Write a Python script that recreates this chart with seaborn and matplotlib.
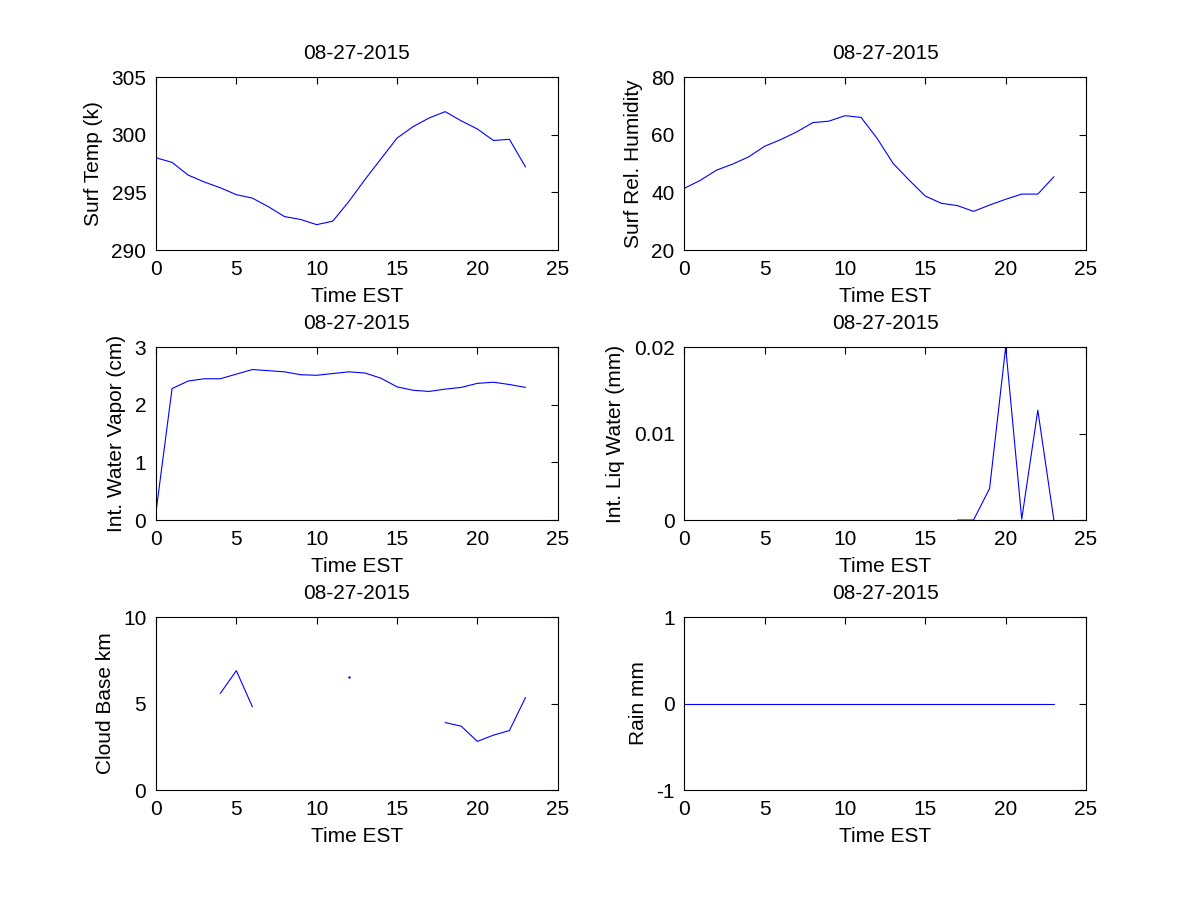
import numpy as np
import pandas as pd
import matplotlib
matplotlib.use("Agg")
import matplotlib.pyplot as plt
import seaborn as sns
from matplotlib.ticker import FuncFormatter

hours = list(range(24))
date_title = "08-27-2015"

nan = float("nan")
surf_temp = [298.0, 297.6, 296.5, 295.9, 295.4, 294.8, 294.5, 293.75, 292.9, 292.65,
             292.2, 292.5, 294.2, 296.1, 297.9, 299.7, 300.7, 301.45, 302.0, 301.2,
             300.5, 299.5, 299.6, 297.2]
surf_rh = [41.4, 44.2, 47.7, 49.8, 52.3, 56.0, 58.3, 61.0, 64.2, 64.7,
           66.6, 66.0, 58.7, 50.0, 44.2, 38.7, 36.2, 35.4, 33.4, 35.6,
           37.6, 39.4, 39.4, 45.4]
int_wv = [0.14, 2.28, 2.41, 2.45, 2.45, 2.53, 2.61, 2.59, 2.57, 2.52,
          2.51, 2.54, 2.57, 2.55, 2.46, 2.31, 2.25, 2.23, 2.27, 2.30,
          2.37, 2.39, 2.35, 2.30]
int_lw = [nan] * 17 + [0.0, 0.0, 0.00365, 0.0200, 0.0001, 0.0127, 0.0]
cloud_base = [nan, nan, nan, nan, 5.58, 6.90, 4.81, nan, nan, nan,
              nan, nan, 6.56, nan, nan, nan, nan, nan, 3.90, 3.69,
              2.81, 3.17, 3.44, 5.35]
rain = [0.0] * 24

panels = [
    (surf_temp, "Surf Temp (k)", (290, 305), [290, 295, 300, 305]),
    (surf_rh, "Surf Rel. Humidity", (20, 80), [20, 40, 60, 80]),
    (int_wv, "Int. Water Vapor (cm)", (0, 3), [0, 1, 2, 3]),
    (int_lw, "Int. Liq Water (mm)", (0, 0.02), [0, 0.01, 0.02]),
    (cloud_base, "Cloud Base km", (0, 10), [0, 5, 10]),
    (rain, "Rain mm", (-1, 1), [-1, 0, 1]),
]

sns.set_style("white")
plt.rcParams["font.family"] = ["Liberation Sans", "DejaVu Sans"]
plt.rcParams["axes.unicode_minus"] = False
plt.rcParams["text.color"] = "black"
plt.rcParams["axes.labelcolor"] = "black"
FS = 15

fig = plt.figure(figsize=(12, 9), dpi=100)
lefts = [0.13, 0.5703]
bottoms = [0.7222, 0.4222, 0.1222]
w, h = 0.3347, 0.1922

for i, (vals, ylab, ylim, yt) in enumerate(panels):
    r, c = divmod(i, 2)
    ax = fig.add_axes([lefts[c], bottoms[r], w, h])
    df = pd.DataFrame({"t": hours, "v": vals})
    # split into contiguous non-missing runs
    grp = df["v"].isna().cumsum()
    for _, seg in df.dropna().groupby(grp[df["v"].notna()]):
        if len(seg) > 1:
            sns.lineplot(data=seg, x="t", y="v", ax=ax, color="blue",
                         linewidth=0.8, estimator=None, sort=False)
        else:
            ax.plot(seg["t"], seg["v"], marker="s", markersize=0.7,
                    color="blue", linestyle="none")
    ax.set_xlim(0, 25)
    ax.set_ylim(*ylim)
    ax.set_xticks([0, 5, 10, 15, 20, 25])
    ax.set_yticks(yt)
    ax.yaxis.set_major_formatter(FuncFormatter(lambda v, p: f"{v:g}"))
    ax.tick_params(direction="in", length=5, width=0.8, top=True, right=True,
                   labelsize=FS, colors="black", labelcolor="black", pad=7)
    for s in ax.spines.values():
        s.set_visible(True)
        s.set_color("black")
        s.set_linewidth(0.8)
    ax.set_xlabel("Time EST", fontsize=FS, labelpad=6, color="black")
    ax.set_ylabel(ylab, fontsize=FS, labelpad=6, color="black")
    ax.set_title(date_title, fontsize=FS, pad=13, color="black")

fig.savefig("out.png", dpi=100, facecolor="white")
